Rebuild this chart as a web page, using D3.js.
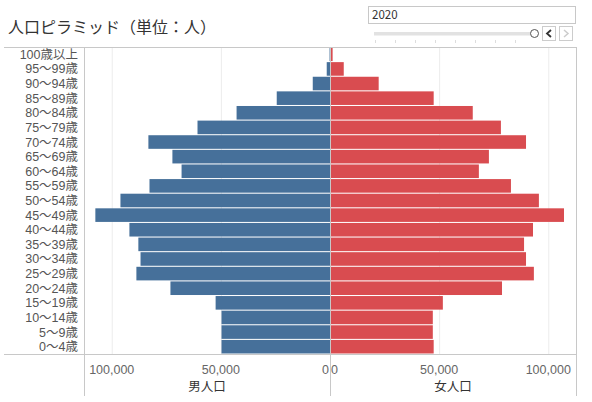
<!DOCTYPE html>
<html>
<head>
<meta charset="utf-8">
<script src="https://cdn.jsdelivr.net/npm/d3@7"></script>
<style>
  body { margin: 0; background: #fff; }
  svg text { font-family: "Noto Sans CJK JP", "Noto Sans", sans-serif; }
  svg text.small { font-family: "Liberation Sans", "Noto Sans CJK JP", sans-serif; }
</style>
</head>
<body>
<div id="chart"></div>
<script>
// age groups, top to bottom
const ageGroups = ['100歳以上', '95〜99歳', '90〜94歳', '85〜89歳', '80〜84歳', '75〜79歳',
    '70〜74歳', '65〜69歳', '60〜64歳', '55〜59歳', '50〜54歳', '45〜49歳', '40〜44歳',
    '35〜39歳', '30〜34歳', '25〜29歳', '20〜24歳', '15〜19歳', '10〜14歳', '5〜9歳', '0〜4歳']
const male = [200, 1500, 7900, 24400, 42800, 60700, 83200, 72200, 68000, 82700, 96000,
    107500, 91900, 87800, 86800, 88700, 73100, 52400, 49700, 49700, 49700]
const female = [1200, 6300, 22300, 47500, 65400, 78300, 89800, 72800, 68200, 82900, 95700,
    107200, 93000, 88900, 89800, 93400, 78800, 51700, 47100, 47100, 47500]
const xTicks = [0, 50000, 100000]
const year = '2020'

const cfg = {
    w: 592,
    h: 402,
    left: 84,          // label column edge
    mid: 330,          // divider between the two panels
    right: 576,
    top: 47,
    bottom: 354,
    xMax: 112700,
    male: '#46709a',
    female: '#d94c50',
    line: '#c8c8c8',
    grid: '#ececec'
}

const svg = d3.select('#chart')
    .append('svg')
    .attr('width', cfg.w)
    .attr('height', cfg.h)

// title
svg.append('text')
    .attr('x', 8).attr('y', 33)
    .style('font-size', '16px')
    .style('fill', '#333')
    .text('人口ピラミッド（単位：人）')

// scales
const y = d3.scaleBand()
    .domain(ageGroups)
    .range([cfg.top, cfg.bottom])
    .paddingInner(0.07)
    .paddingOuter(0.035)
const xMale = d3.scaleLinear().domain([cfg.xMax, 0]).range([cfg.left, cfg.mid])
const xFemale = d3.scaleLinear().domain([0, cfg.xMax]).range([cfg.mid, cfg.right])

// gridlines
const grid = svg.append('g')
grid.selectAll('.gm').data(xTicks.filter(d => d > 0)).enter()
    .append('line')
    .attr('x1', d => xMale(d) + 0.5).attr('x2', d => xMale(d) + 0.5)
    .attr('y1', cfg.top).attr('y2', cfg.bottom)
    .attr('stroke', cfg.grid)
grid.selectAll('.gf').data(xTicks.filter(d => d > 0)).enter()
    .append('line')
    .attr('x1', d => xFemale(d) + 0.5).attr('x2', d => xFemale(d) + 0.5)
    .attr('y1', cfg.top).attr('y2', cfg.bottom)
    .attr('stroke', cfg.grid)

// bars
svg.append('g').selectAll('rect')
    .data(ageGroups).enter()
    .append('rect')
    .attr('x', (d, i) => xMale(male[i]))
    .attr('y', d => y(d))
    .attr('width', (d, i) => cfg.mid - xMale(male[i]))
    .attr('height', y.bandwidth())
    .attr('fill', cfg.male)

svg.append('g').selectAll('rect')
    .data(ageGroups).enter()
    .append('rect')
    .attr('x', cfg.mid)
    .attr('y', d => y(d))
    .attr('width', (d, i) => xFemale(female[i]) - cfg.mid)
    .attr('height', y.bandwidth())
    .attr('fill', cfg.female)

// row labels
svg.append('g').selectAll('text')
    .data(ageGroups).enter()
    .append('text')
    .attr('class', 'small')
    .attr('x', cfg.left - 6)
    .attr('y', d => y(d) + y.bandwidth() / 2)
    .attr('dy', '0.36em')
    .attr('text-anchor', 'end')
    .style('font-size', '12.5px')
    .style('fill', '#555')
    .text(d => d)

// frame lines
const frame = svg.append('g').attr('stroke', cfg.line).attr('shape-rendering', 'crispEdges')
frame.append('line').attr('x1', 4).attr('x2', cfg.right).attr('y1', cfg.top).attr('y2', cfg.top)
frame.append('line').attr('x1', 4).attr('x2', cfg.right).attr('y1', cfg.bottom).attr('y2', cfg.bottom)
frame.append('line').attr('x1', cfg.left).attr('x2', cfg.left).attr('y1', cfg.top).attr('y2', 396)
frame.append('line').attr('x1', cfg.right).attr('x2', cfg.right).attr('y1', cfg.top).attr('y2', 396)
frame.append('line').attr('x1', cfg.mid).attr('x2', cfg.mid).attr('y1', cfg.top).attr('y2', 396)

// tick labels
const fmt = d3.format(',')
svg.append('g').selectAll('text')
    .data(xTicks).enter()
    .append('text')
    .attr('class', 'small')
    .attr('x', d => d === 0 ? xMale(d) - 1 : xMale(d))
    .attr('y', 374)
    .attr('text-anchor', d => d === 0 ? 'end' : 'middle')
    .style('font-size', '12.5px')
    .style('fill', '#666')
    .text(d => fmt(d))
svg.append('g').selectAll('text')
    .data(xTicks).enter()
    .append('text')
    .attr('class', 'small')
    .attr('x', d => d === 0 ? xFemale(d) + 1 : xFemale(d))
    .attr('y', 374)
    .attr('text-anchor', d => d === 0 ? 'start' : 'middle')
    .style('font-size', '12.5px')
    .style('fill', '#666')
    .text(d => fmt(d))

// axis titles
svg.append('text')
    .attr('class', 'small')
    .attr('x', (cfg.left + cfg.mid) / 2).attr('y', 391)
    .attr('text-anchor', 'middle')
    .style('font-size', '12.5px').style('fill', '#333')
    .text('男人口')
svg.append('text')
    .attr('class', 'small')
    .attr('x', (cfg.mid + cfg.right) / 2).attr('y', 391)
    .attr('text-anchor', 'middle')
    .style('font-size', '12.5px').style('fill', '#333')
    .text('女人口')

// year filter widget
const wg = svg.append('g')
wg.append('rect')
    .attr('x', 368.5).attr('y', 6.5).attr('width', 207).attr('height', 17)
    .attr('fill', '#fff').attr('stroke', '#c8c8c8')
wg.append('text')
    .attr('x', 372).attr('y', 19)
    .style('font-size', '11.5px').style('fill', '#333')
    .text(year)
wg.append('rect')
    .attr('x', 374).attr('y', 32).attr('width', 157).attr('height', 3.5)
    .attr('fill', '#e2e2e2')
wg.selectAll('.tick').data(d3.range(8)).enter()
    .append('line')
    .attr('x1', d => 375 + d * 20 + 0.5).attr('x2', d => 375 + d * 20 + 0.5)
    .attr('y1', 40).attr('y2', 43)
    .attr('stroke', '#ddd')
wg.append('circle')
    .attr('cx', 534.5).attr('cy', 33.5).attr('r', 4)
    .attr('fill', '#fff').attr('stroke', '#555')
wg.append('rect')
    .attr('x', 542.5).attr('y', 26.5).attr('width', 13).attr('height', 14)
    .attr('fill', '#fff').attr('stroke', '#ccc')
wg.append('path')
    .attr('d', 'M551,30 L547,33.5 L551,37')
    .attr('fill', 'none').attr('stroke', '#333').attr('stroke-width', 1.8)
wg.append('rect')
    .attr('x', 559.5).attr('y', 26.5).attr('width', 13).attr('height', 14)
    .attr('fill', '#fff').attr('stroke', '#ccc')
wg.append('path')
    .attr('d', 'M564,30 L568,33.5 L564,37')
    .attr('fill', 'none').attr('stroke', '#ccc').attr('stroke-width', 1.5)
</script>
</body>
</html>
